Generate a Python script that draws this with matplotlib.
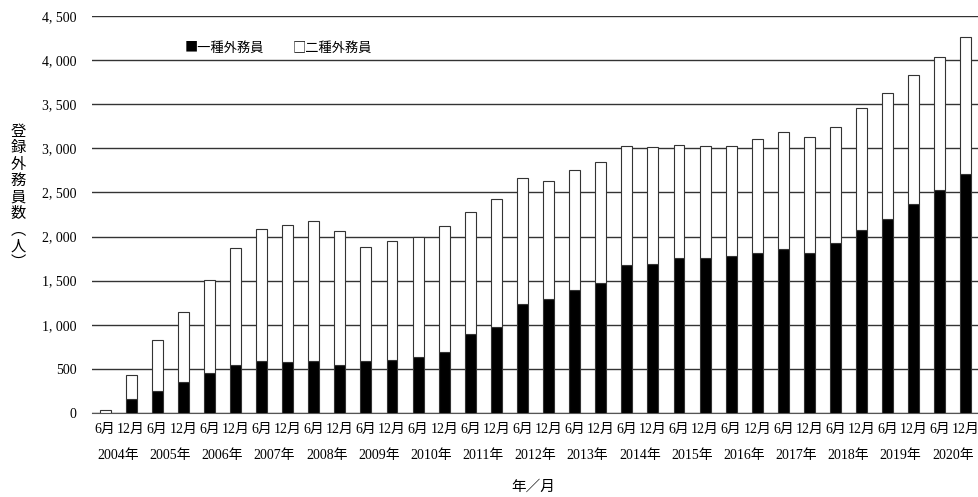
import matplotlib
matplotlib.use("Agg")
import matplotlib.pyplot as plt
import numpy as np

plt.rcParams['font.family'] = ['Liberation Serif', 'Noto Sans CJK JP']
CJK = ['Noto Sans CJK JP', 'DejaVu Sans']

years = [str(y) + "年" for y in range(2004, 2021)]
months = ["6月", "12月"]
tick_labels = [m for _ in years for m in months]

type1 = [0, 162, 245, 351, 453, 543, 592, 574, 589, 547, 585, 604, 634, 694,
         894, 974, 1234, 1291, 1393, 1468, 1683, 1687, 1755, 1755, 1774, 1812,
         1864, 1815, 1925, 2072, 2204, 2370, 2525, 2706]
total = [30, 426, 826, 1147, 1502, 1872, 2087, 2132, 2174, 2061, 1879, 1947,
         2000, 2121, 2279, 2423, 2661, 2630, 2751, 2846, 3023, 3012, 3034, 3023,
         3023, 3102, 3181, 3125, 3242, 3453, 3631, 3827, 4031, 4257]
type2 = [t - a for t, a in zip(total, type1)]

fig = plt.figure(figsize=(9.79, 4.97), dpi=100)
ax = fig.add_axes([92 / 979, 1 - 413 / 497, 1 - 92 / 979, (413 - 16) / 497])

x = np.arange(len(type1))
w = 0.42
ax.set_axisbelow(True)
ax.bar(x, type1, width=w, color="black", edgecolor="#333333", linewidth=0.8, zorder=3)
ax.bar(x, type2, width=w, bottom=type1, color="white", edgecolor="#333333", linewidth=0.8, zorder=3)

ax.set_xlim(-0.5, len(x) - 0.5)
ax.set_ylim(0, 4500)
yt = np.arange(0, 4501, 500)
ax.set_yticks(yt)
ax.set_yticklabels([f"{v:,}".replace(",", ", ") for v in yt], fontsize=10)
ax.yaxis.grid(True, color="#333333", linewidth=1.0)
ax.tick_params(axis="y", length=0, pad=11)
ax.tick_params(axis="x", length=0, pad=7)
ax.set_xticks(x)
ax.set_xticklabels(tick_labels, fontsize=10)
for s in ["top", "right", "left"]:
    ax.spines[s].set_visible(False)
ax.spines["bottom"].set_color("#555555")

# year labels
for i, y in enumerate(years):
    ax.text(2 * i + 0.5, -0.108, y, transform=ax.get_xaxis_transform(),
            ha="center", va="center", fontsize=10)

fig.text(533 / 979, 1 - 487 / 497, "年／月", ha="center", va="center",
         fontsize=10.5, family=CJK)
fig.text(18 / 979, 1 - 197 / 497, "\n".join("登録外務員数︵人︶"), ha="center",
         va="center", fontsize=11, linespacing=0.95, family=CJK)

fig.text(185 / 979, 1 - 48 / 497, "■一種外務員", ha="left", va="center",
         fontsize=9.5, family=CJK)
fig.text(293 / 979, 1 - 48 / 497, "□二種外務員", ha="left", va="center",
         fontsize=9.5, family=CJK)

fig.savefig("out.png", dpi=100)
